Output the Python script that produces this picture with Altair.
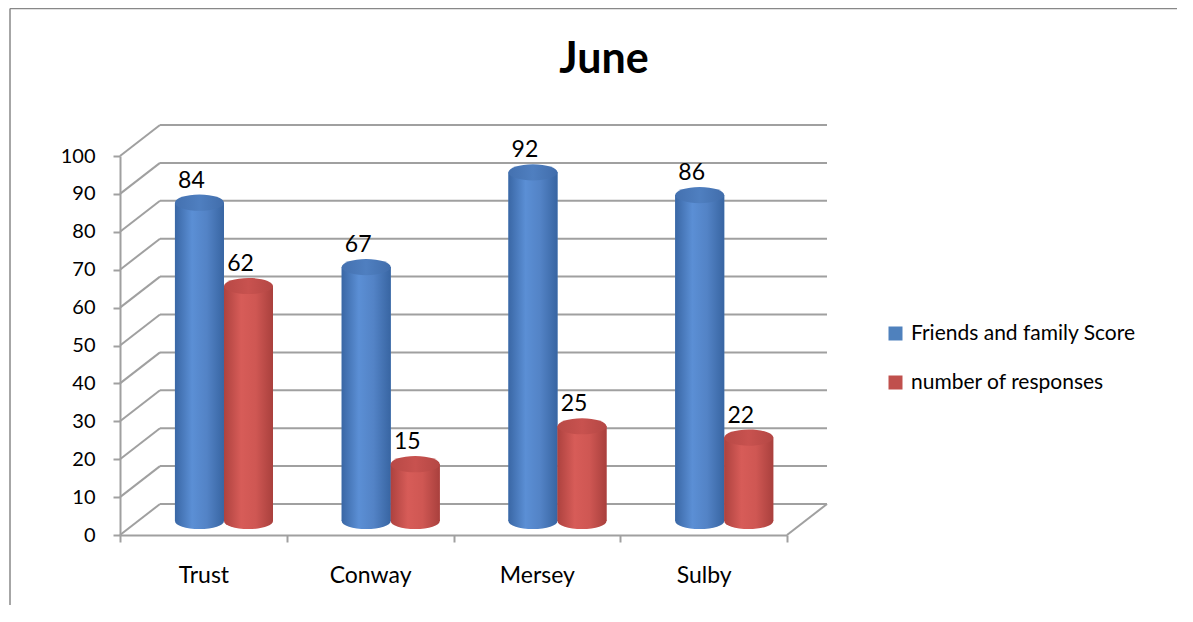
import altair as alt
import pandas as pd

# ---------------- data ----------------
title_text = "June"
categories = ["Trust", "Conway", "Mersey", "Sulby"]
series = ["Friends and family Score", "number of responses"]
friends_score = [84, 67, 92, 86]
responses = [62, 15, 25, 22]
y_ticks = [0, 10, 20, 30, 40, 50, 60, 70, 80, 90, 100]

rows = []
for c, a, b in zip(categories, friends_score, responses):
    rows.append({"category": c, "series": series[0], "value": a})
    rows.append({"category": c, "series": series[1], "value": b})
df = pd.DataFrame(rows)
grid_df = pd.DataFrame({"value": y_ticks})
floor_df = pd.DataFrame({"value": [0]})
title_df = pd.DataFrame({"t": [title_text]})

# ---------------- layout / style ----------------
W, H = 667, 379
DX, DY = 40, -31            # depth of the 3D box
BAR_DX, BAR_DY = 20.6, -14  # middle plane where cylinders stand
P_IN, P_OUT = 0.412, 0.206
STEP = W / len(categories)
HALF = STEP * (1 - P_IN) / 4    # half width of one cylinder
GRID = "#a0a0a0"
FONT = "Lato"
colors = ["#4F81BD", "#C0504D"]

def grad(stops):
    return alt.Gradient(gradient="linear", x1=0, x2=1, y1=0, y2=0,
                        stops=[alt.GradientStop(offset=o, color=c) for o, c in stops])

body_grad = [
    grad([(0, "#3a67a5"), (0.35, "#5b8fd5"), (0.65, "#5383c6"), (1, "#3865a2")]),
    grad([(0, "#ad423f"), (0.35, "#d75c58"), (0.65, "#cf5753"), (1, "#a9403d")]),
]
top_grad = [
    grad([(0, "#4471b0"), (0.5, "#4f7fc0"), (1, "#416dab")]),
    grad([(0, "#b84946"), (0.5, "#c8524f"), (1, "#b44744")]),
]

# axis-only x (bands = full steps so ticks sit on category boundaries)
x_axis_enc = alt.X("category:N", sort=categories,
                   scale=alt.Scale(paddingInner=0, paddingOuter=0),
                   axis=alt.Axis(title=None, labelAngle=0, tickBand="extent",
                                 domainColor=GRID, domainWidth=2, tickColor=GRID,
                                 tickWidth=2, tickSize=7, labelPadding=22,
                                 labelFontSize=23, labelColor="#000", labelFont=FONT))
# x for the cylinder bodies: shifted into the middle depth plane
x_enc = alt.X("category:N", sort=categories,
              scale=alt.Scale(paddingInner=P_IN, paddingOuter=P_OUT,
                              range=[BAR_DX, W + BAR_DX]),
              axis=None)
xo_enc = alt.XOffset("series:N", sort=series,
                     scale=alt.Scale(domain=series, paddingInner=0, paddingOuter=0))

def x_series(i):
    # x for point-like marks (caps, labels) centred on cylinder i of each group
    shift = BAR_DX + (2 * i - 1) * HALF
    return alt.X("category:N", sort=categories,
                 scale=alt.Scale(paddingInner=P_IN, paddingOuter=P_OUT,
                                 range=[shift, W + shift]),
                 axis=None)

y_enc = alt.Y("value:Q", scale=alt.Scale(domain=[0, 100], nice=False),
              axis=alt.Axis(title=None, values=y_ticks, grid=False,
                            domainColor=GRID, domainWidth=2, tickColor=GRID,
                            tickWidth=2, tickSize=7, labelPadding=18,
                            labelFontSize=20, labelColor="#000", labelFont=FONT))

ELLIPSE = "M -1 0 A 1 0.33 0 1 1 1 0 A 1 0.33 0 1 1 -1 0 Z"
CAP = (2 * HALF) ** 2

# ---------------- 3D box ----------------
axis_layer = alt.Chart(df).mark_point(opacity=0).encode(x=x_axis_enc, y=y_enc)
diag = alt.Chart(grid_df).mark_rule(color=GRID, strokeWidth=2, y2Offset=DY).encode(
    x=alt.value(0), x2=alt.value(DX), y=y_enc, y2=alt.Y2("value:Q"))
back = alt.Chart(grid_df).mark_rule(color=GRID, strokeWidth=2, yOffset=DY).encode(
    x=alt.value(DX), x2=alt.value(W + DX), y=y_enc)
floor_edge = alt.Chart(floor_df).mark_rule(color=GRID, strokeWidth=2, y2Offset=DY).encode(
    x=alt.value(W), x2=alt.value(W + DX), y=y_enc, y2=alt.Y2("value:Q"))

layers = [axis_layer, diag, back, floor_edge]

# ---------------- cylinders ----------------
for i, s in enumerate(series):
    layers.append(
        alt.Chart(df).transform_filter(alt.datum.series == s).transform_calculate(value="0")
        .mark_point(shape=ELLIPSE, size=CAP, filled=True, fill=body_grad[i], opacity=1,
                    strokeWidth=0, yOffset=BAR_DY)
        .encode(x=x_series(i), y=y_enc)
    )

bars = alt.Chart(df).mark_bar(yOffset=BAR_DY, y2Offset=BAR_DY).encode(
    x=x_enc, xOffset=xo_enc, y=y_enc,
    color=alt.Color("series:N", sort=series,
                    scale=alt.Scale(domain=series, range=colors),
                    legend=alt.Legend(title=None, orient="none", legendX=765, legendY=167,
                                      symbolType="square", symbolSize=196,
                                      symbolStrokeWidth=0, labelFontSize=21,
                                      labelFont=FONT, labelColor="#000", labelLimit=500,
                                      rowPadding=27, labelOffset=5, padding=0)))
layers.append(bars)

for i, s in enumerate(series):
    layers.append(
        alt.Chart(df).transform_filter(alt.datum.series == s)
        .mark_bar(fill=body_grad[i], yOffset=BAR_DY, y2Offset=BAR_DY)
        .encode(x=x_enc, xOffset=xo_enc, y=y_enc)
    )
for i, s in enumerate(series):
    layers.append(
        alt.Chart(df).transform_filter(alt.datum.series == s)
        .mark_point(shape=ELLIPSE, size=CAP, filled=True, fill=top_grad[i], opacity=1,
                    strokeWidth=0, yOffset=BAR_DY)
        .encode(x=x_series(i), y=y_enc)
    )
for i, s in enumerate(series):
    layers.append(
        alt.Chart(df).transform_filter(alt.datum.series == s)
        .mark_text(fontSize=23, font=FONT, color="#000", baseline="middle",
                   yOffset=BAR_DY, dx=-8, dy=-22)
        .encode(x=x_series(i), y=y_enc, text=alt.Text("value:Q"))
    )

# ---------------- title & frame ----------------
title = alt.Chart(title_df).mark_text(fontSize=43, font=FONT, fontWeight="bold",
                                      color="#000", baseline="alphabetic", align="center").encode(
    x=alt.value(484), y=alt.value(-83), text="t:N")
frame_left = alt.Chart(title_df).mark_rule(color="#888888", strokeWidth=1.5).encode(
    x=alt.value(-110), y=alt.value(-147.5), y2=alt.value(480))
frame_top = alt.Chart(title_df).mark_rule(color="#888888", strokeWidth=1.5).encode(
    x=alt.value(-110), x2=alt.value(1070), y=alt.value(-147.5))
layers += [title, frame_left, frame_top]

chart = alt.layer(*layers).resolve_scale(
    x="independent", xOffset="independent"
).properties(
    width=W, height=H,
    padding={"left": 112, "top": 148, "right": 390, "bottom": 70},
    autosize=alt.AutoSizeParams(type="none"),
).configure(font=FONT, view=alt.ViewConfig(stroke=None))

chart.save("out.html", embed_options={"renderer": "svg", "actions": False})
